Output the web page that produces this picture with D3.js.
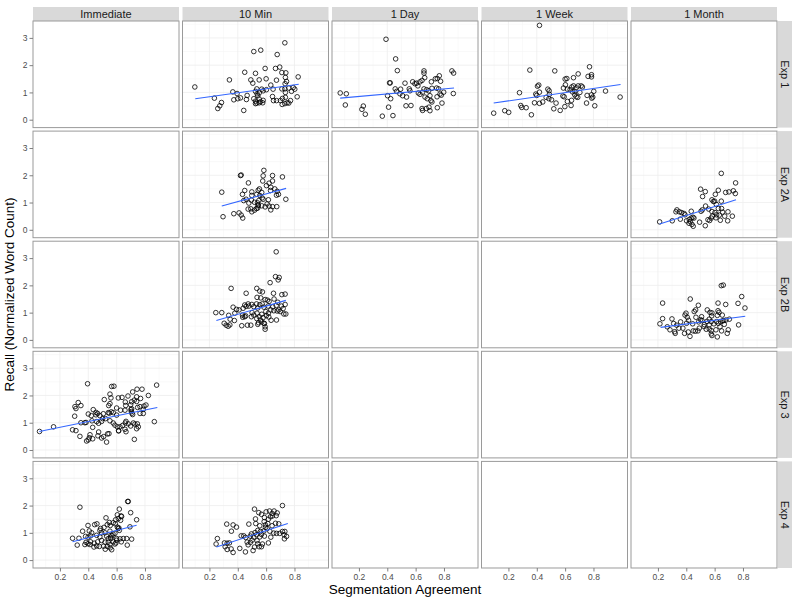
<!DOCTYPE html>
<html><head><meta charset="utf-8">
<script src="https://cdn.jsdelivr.net/npm/d3@7"></script>
<style>body{margin:0;background:#fff} svg{display:block;font-family:"Liberation Sans",Arial,Helvetica,sans-serif}</style>
</head><body><svg id="chart" width="800" height="603"></svg>
<script>
const columns = ["Immediate", "10 Min", "1 Day", "1 Week", "1 Month"];
const rows = ["Exp 1", "Exp 2A", "Exp 2B", "Exp 3", "Exp 4"];
const xTicks = [0.2, 0.4, 0.6, 0.8];
const yTicks = [0, 1, 2, 3];
const xMinor = [0.1, 0.3, 0.5, 0.7, 0.9];
const yMinor = [0.5, 1.5, 2.5, 3.5];
const xTitle = "Segmentation Agreement";
const yTitle = "Recall (Normalized Word Count)";

// [segmentation agreement, recall]
const exp1_10min = [[0.097,1.20],[0.732,2.82],[0.513,2.50],[0.562,2.55],[0.678,2.39],
[0.449,1.74],[0.525,1.70],[0.593,1.88],[0.666,1.88],[0.696,1.93],[0.711,1.73],[0.739,1.72],
[0.341,1.46],[0.492,1.46],[0.506,1.34],[0.551,1.46],[0.600,1.50],[0.673,1.45],[0.736,1.55],[0.744,1.40],[0.734,1.32],[0.826,1.57],
[0.633,1.27],[0.534,1.13],[0.569,1.12],[0.602,1.10],[0.649,1.12],[0.711,1.13],[0.732,1.13],[0.760,1.16],[0.791,1.18],[0.802,1.12],[0.736,1.00],[0.779,1.04],
[0.365,1.02],[0.395,0.96],[0.466,0.89],[0.525,1.04],[0.536,0.95],[0.541,0.88],[0.551,0.98],[0.579,1.06],
[0.235,0.79],[0.372,0.73],[0.40,0.77],[0.419,0.80],[0.461,0.74],[0.513,0.77],[0.525,0.68],[0.534,0.61],[0.551,0.76],[0.56,0.66],[0.579,0.71],[0.645,0.85],[0.652,0.70],[0.673,0.70],[0.701,0.70],[0.715,0.78],[0.736,0.82],[0.748,0.62],[0.772,0.70],[0.819,0.84],
[0.285,0.63],[0.273,0.51],[0.259,0.41],[0.442,0.34],[0.525,0.59],[0.551,0.62],[0.576,0.62],[0.713,0.56],[0.732,0.59],[0.760,0.61]];

const exp1_1day = [[0.391,2.95],[0.459,2.23],[0.471,1.80],[0.421,1.35],[0.416,1.35],
[0.068,0.98],[0.111,0.95],[0.104,0.54],[0.231,0.50],[0.221,0.38],[0.245,0.20],[0.365,0.13],[0.44,0.15],[0.409,0.46],[0.402,0.88],[0.424,0.77],
[0.456,1.13],[0.494,1.12],[0.466,1.04],[0.489,0.95],[0.508,0.88],[0.525,1.34],[0.555,1.13],[0.56,1.06],[0.536,0.83],[0.532,0.51],[0.567,0.52],
[0.579,1.39],[0.595,1.32],[0.607,1.34],[0.616,1.24],[0.631,1.39],[0.645,1.44],[0.659,1.79],[0.659,1.71],[0.664,1.54],[0.711,1.39],[0.715,1.15],[0.739,1.50],[0.753,1.51],[0.767,1.61],[0.776,1.41],[0.856,1.79],[0.868,1.71],
[0.619,0.98],[0.631,0.93],[0.649,1.01],[0.659,1.13],[0.678,1.10],[0.692,1.06],[0.748,1.16],[0.762,1.13],[0.798,1.01],[0.866,0.96],[0.772,0.94],[0.781,0.90],
[0.666,0.83],[0.682,0.77],[0.701,0.88],[0.708,0.70],[0.715,0.65],[0.751,0.84],
[0.645,0.41],[0.649,0.34],[0.675,0.41],[0.694,0.46],[0.701,0.33],[0.753,0.44],[0.786,0.61]];

const exp1_1week = [[0.419,3.46],[0.351,1.82],[0.527,1.79],[0.772,1.94],[0.692,1.68],[0.762,1.59],[0.786,1.65],[0.786,1.57],
[0.612,1.51],[0.60,1.49],[0.659,1.54],[0.602,1.28],[0.588,1.16],[0.414,1.27],[0.405,1.23],[0.393,0.94],[0.40,0.89],[0.419,1.01],[0.478,1.12],[0.487,1.06],[0.278,0.99],[0.489,0.93],[0.466,0.82],[0.485,0.77],[0.504,0.73],[0.536,0.61],
[0.616,1.12],[0.635,1.10],[0.647,1.20],[0.659,1.24],[0.678,1.17],[0.692,1.24],[0.713,1.24],[0.722,1.20],[0.668,1.04],[0.652,1.02],[0.704,1.0],[0.668,0.91],[0.678,0.84],[0.802,1.04],[0.885,1.05],[0.755,0.89],[0.786,0.91],[0.795,0.83],[0.788,0.79],[0.988,0.83],
[0.584,0.87],[0.593,0.84],[0.616,0.67],[0.645,0.71],[0.689,0.82],[0.751,0.61],[0.809,0.51],[0.642,0.52],[0.598,0.48],[0.52,0.40],[0.565,0.34],
[0.384,0.62],[0.419,0.60],[0.442,0.65],[0.287,0.52],[0.294,0.45],[0.325,0.44],[0.174,0.33],[0.202,0.27],[0.096,0.24],[0.362,0.18]];

const exp2a_10min = [[0.584,2.18],[0.424,2.01],[0.419,1.99],[0.645,1.99],[0.715,1.94],[0.579,1.98],[0.475,1.72],[0.645,1.79],[0.576,1.79],
[0.553,1.50],[0.544,1.45],[0.602,1.62],[0.621,1.71],[0.633,1.56],[0.661,1.50],[0.631,1.44],[0.678,1.41],[0.687,1.30],[0.673,1.27],
[0.287,1.38],[0.449,1.44],[0.433,1.30],[0.499,1.39],[0.499,1.26],[0.534,1.30],[0.569,1.37],[0.555,1.26],
[0.459,1.12],[0.442,1.07],[0.496,1.09],[0.548,1.07],[0.572,1.17],[0.579,1.12],[0.616,1.10],[0.739,1.12],
[0.478,0.98],[0.518,1.01],[0.539,0.99],[0.607,0.95],[0.544,0.91],[0.569,0.88],[0.593,0.84],[0.621,0.87],[0.645,0.85],[0.675,0.85],
[0.473,0.76],[0.492,0.77],[0.499,0.66],[0.518,0.72],[0.532,0.78],[0.541,0.80],[0.544,0.88],[0.633,0.73],
[0.372,0.59],[0.409,0.62],[0.424,0.54],[0.296,0.48],[0.435,0.43]];

const exp2a_1month = [[0.647,2.07],[0.748,1.72],[0.501,1.49],[0.534,1.40],[0.626,1.45],[0.605,1.30],[0.515,1.22],[0.678,1.37],[0.701,1.39],[0.732,1.43],[0.746,1.33],
[0.581,1.10],[0.591,1.04],[0.60,1.05],[0.647,1.05],[0.612,0.93],[0.536,0.87],[0.513,0.73],[0.504,0.68],
[0.334,0.73],[0.327,0.66],[0.351,0.66],[0.367,0.63],[0.384,0.60],[0.391,0.55],[0.435,0.68],[0.558,0.76],[0.581,0.67],[0.602,0.63],[0.626,0.78],[0.649,0.78],[0.656,0.65],[0.694,0.66],
[0.447,0.46],[0.454,0.43],[0.435,0.43],[0.421,0.38],[0.402,0.33],[0.419,0.24],[0.428,0.30],[0.44,0.20],[0.449,0.13],[0.358,0.39],[0.301,0.33],[0.212,0.29],[0.494,0.28],[0.534,0.15],[0.553,0.37],[0.576,0.43],[0.584,0.50],[0.614,0.55],[0.633,0.54],[0.64,0.35],[0.671,0.50],[0.725,0.50],[0.692,0.33],[0.609,0.44],[0.565,0.34]];

const exp2b_10min = [[0.671,3.23],
[0.666,2.32],[0.692,2.29],[0.685,2.20],[0.628,2.10],[0.353,1.89],[0.459,1.71],[0.534,1.89],[0.555,1.79],[0.574,1.76],[0.652,1.71],[0.711,1.66],[0.734,1.68],
[0.536,1.56],[0.562,1.54],[0.593,1.48],[0.609,1.46],[0.621,1.41],[0.656,1.50],[0.682,1.38],[0.734,1.30],[0.473,1.32],[0.499,1.30],[0.449,1.28],[0.532,1.32],[0.555,1.29],[0.572,1.32],
[0.367,1.20],[0.391,1.12],[0.409,1.10],[0.438,1.16],[0.459,1.23],[0.478,1.24],[0.513,1.22],[0.541,1.17],[0.584,1.20],[0.614,1.24],[0.647,1.21],[0.671,1.26],[0.708,1.24],[0.72,1.15],[0.689,1.10],[0.633,1.10],[0.598,1.04],
[0.245,1.0],[0.287,1.0],[0.336,0.90],[0.379,0.98],[0.433,0.91],[0.456,0.88],[0.501,1.0],[0.513,0.91],[0.536,0.98],[0.569,0.94],[0.616,0.98],[0.654,1.07],[0.678,1.06],[0.725,0.95],[0.739,0.95],[0.699,1.04],
[0.346,0.76],[0.376,0.71],[0.435,0.83],[0.449,0.85],[0.496,0.85],[0.534,0.78],[0.551,0.85],[0.56,0.73],[0.579,0.82],[0.602,0.89],[0.619,0.84],[0.635,0.72],[0.673,0.73],
[0.304,0.61],[0.318,0.54],[0.332,0.50],[0.344,0.55],[0.428,0.52],[0.468,0.54],[0.492,0.54],[0.546,0.63],[0.541,0.57],[0.569,0.66],[0.588,0.60],[0.593,0.48],[0.593,0.39],[0.584,0.61]];

const exp2b_1month = [[0.647,1.99],[0.661,2.01],[0.791,1.59],[0.233,1.35],[0.428,1.50],[0.485,1.27],[0.624,1.35],[0.678,1.30],[0.765,1.34],[0.814,1.17],
[0.466,1.10],[0.456,1.04],[0.548,1.10],[0.567,1.01],[0.581,0.99],[0.624,1.07],[0.631,1.01],[0.398,0.98],[0.391,0.91],
[0.233,0.78],[0.299,0.77],[0.407,0.83],[0.416,0.72],[0.468,0.83],[0.508,0.85],[0.579,0.88],[0.619,0.90],[0.654,0.91],[0.664,0.71],[0.68,0.73],[0.704,0.76],[0.562,0.76],[0.546,0.68],[0.501,0.74],
[0.214,0.59],[0.266,0.48],[0.311,0.60],[0.36,0.66],[0.332,0.54],[0.348,0.43],[0.402,0.61],[0.445,0.59],[0.487,0.66],[0.511,0.71],[0.527,0.56],[0.576,0.67],[0.595,0.59],[0.614,0.67],[0.626,0.61],[0.642,0.67],[0.656,0.70],[0.668,0.57],[0.769,0.55],[0.562,0.55],
[0.285,0.37],[0.318,0.30],[0.322,0.24],[0.376,0.43],[0.388,0.24],[0.414,0.29],[0.426,0.13],[0.449,0.33],[0.464,0.32],[0.482,0.33],[0.492,0.43],[0.525,0.49],[0.541,0.39],[0.562,0.40],[0.576,0.34],[0.576,0.22],[0.581,0.16],[0.609,0.37],[0.619,0.11],[0.649,0.33],[0.696,0.37],[0.689,0.24],[0.638,0.48]];

const exp3_immediate = [[0.395,2.43],[0.565,2.33],[0.581,2.34],[0.882,2.38],[0.824,2.0],[0.779,2.23],[0.744,2.23],[0.713,2.13],[0.68,1.98],[0.638,1.93],[0.553,2.05],[0.56,1.91],[0.612,1.91],[0.741,1.95],[0.706,1.77],[0.661,1.76],
[0.306,1.59],[0.329,1.74],[0.348,1.63],[0.313,1.52],[0.435,1.48],[0.513,1.85],[0.553,1.70],[0.544,1.63],[0.60,1.54],[0.562,1.40],[0.628,1.46],[0.664,1.63],[0.699,1.66],[0.725,1.83],[0.741,1.78],[0.748,1.56],[0.765,1.59],[0.793,1.61],[0.807,1.65],[0.769,1.89],
[0.304,1.24],[0.40,1.32],[0.421,1.26],[0.454,1.38],[0.454,1.29],[0.466,1.34],[0.482,1.26],[0.506,1.33],[0.541,1.37],[0.548,1.35],[0.576,1.37],[0.60,1.28],[0.659,1.46],[0.701,1.48],[0.706,1.51],[0.704,1.41],[0.708,1.35],[0.713,1.30],[0.765,1.34],[0.788,1.34],[0.788,1.49],
[0.155,0.85],[0.056,0.68],[0.289,0.74],[0.313,0.71],[0.348,1.0],[0.376,1.0],[0.384,1.01],[0.426,1.07],[0.459,1.04],[0.473,0.98],[0.494,1.05],[0.501,1.15],[0.522,1.15],[0.553,1.07],[0.576,0.99],[0.588,0.91],[0.605,0.85],[0.642,0.90],[0.661,0.99],[0.666,1.05],[0.682,0.96],[0.718,0.99],[0.729,0.95],[0.746,0.96],[0.753,0.85],[0.866,1.04],[0.699,0.88],[0.741,0.78],[0.614,0.71],[0.659,0.76],[0.624,0.85],
[0.341,0.50],[0.412,0.56],[0.407,0.45],[0.40,0.37],[0.431,0.41],[0.431,0.83],[0.468,0.52],[0.473,0.66],[0.494,0.44],[0.508,0.49],[0.536,0.59],[0.546,0.60],[0.529,0.29],[0.614,0.70],[0.666,0.67],[0.725,0.39],[0.388,0.33]];

const exp4_immediate = [[0.341,1.94],[0.678,2.15],[0.682,2.15],[0.619,1.87],[0.699,1.74],[0.741,1.48],[0.605,1.66],[0.612,1.52],[0.631,1.62],[0.635,1.60],[0.593,1.48],[0.628,1.46],
[0.398,1.27],[0.461,1.33],[0.525,1.55],[0.534,1.30],[0.548,1.38],[0.555,1.27],[0.511,1.20],[0.487,1.16],[0.576,1.37],[0.591,1.33],[0.605,1.21],[0.612,1.16],[0.616,1.18],[0.619,1.09],[0.694,1.22],
[0.36,1.06],[0.407,1.07],[0.424,1.0],[0.445,1.30],[0.482,1.09],[0.494,1.0],[0.518,1.0],[0.553,1.06],[0.574,0.96],[0.588,0.98],[0.567,0.90],[0.558,0.84],
[0.289,0.80],[0.334,0.80],[0.381,0.87],[0.398,0.84],[0.416,0.89],[0.459,0.91],[0.482,0.85],[0.529,0.88],[0.541,0.79],[0.56,0.79],[0.60,0.79],[0.624,0.78],[0.647,0.79],[0.671,0.79],[0.706,0.77],[0.675,0.55],[0.633,0.67],
[0.322,0.55],[0.384,0.65],[0.398,0.60],[0.416,0.67],[0.442,0.62],[0.466,0.67],[0.494,0.72],[0.518,0.66],[0.541,0.66],[0.576,0.67],[0.60,0.73],
[0.376,0.57],[0.412,0.57],[0.44,0.48],[0.459,0.52],[0.478,0.50],[0.508,0.51],[0.52,0.40],[0.534,0.50],[0.553,0.57],[0.555,0.45],[0.588,0.59],[0.595,0.63],[0.565,0.38]];

const exp4_10min = [[0.715,2.0],[0.518,1.87],[0.548,1.74],[0.567,1.68],[0.60,1.77],[0.624,1.80],[0.642,1.71],[0.656,1.80],[0.678,1.73],[0.671,1.63],[0.631,1.59],[0.645,1.62],[0.588,1.56],[0.525,1.51],[0.616,1.50],
[0.322,1.32],[0.367,1.29],[0.391,1.21],[0.355,1.06],[0.478,1.32],[0.527,1.34],[0.555,1.26],[0.586,1.41],[0.595,1.29],[0.612,1.34],[0.595,1.20],[0.607,1.16],[0.642,1.26],[0.666,1.35],[0.689,1.33],[0.584,1.07],[0.626,1.06],[0.654,0.99],[0.673,0.98],[0.696,0.98],[0.715,1.05],[0.732,1.05],[0.727,0.93],[0.744,0.87],[0.729,0.78],
[0.424,0.89],[0.442,0.89],[0.456,0.83],[0.489,0.88],[0.496,0.96],[0.522,1.01],[0.541,1.09],[0.56,1.05],[0.532,0.93],[0.567,0.94],[0.513,0.84],[0.555,0.85],[0.588,0.88],[0.633,0.84],[0.616,0.63],
[0.256,0.79],[0.247,0.59],[0.306,0.63],[0.325,0.62],[0.341,0.63],[0.311,0.49],[0.325,0.39],[0.353,0.41],[0.367,0.28],[0.414,0.43],[0.454,0.30],[0.473,0.56],[0.489,0.65],[0.501,0.73],[0.508,0.35],[0.466,0.66],[0.541,0.60],[0.551,0.49],[0.567,0.49],[0.574,0.59],[0.518,0.48],[0.536,0.71]];

// fitted regression lines: [x start, y start, x end, y end]
const fit_exp1_10min = [0.10, 0.77, 0.83, 1.30];
const fit_exp1_1day = [0.068, 0.79, 0.871, 1.16];
const fit_exp1_1week = [0.096, 0.61, 0.991, 1.29];
const fit_exp2a_10min = [0.287, 0.87, 0.741, 1.52];
const fit_exp2a_1month = [0.212, 0.21, 0.751, 1.10];
const fit_exp2b_10min = [0.249, 0.71, 0.739, 1.45];
const fit_exp2b_1month = [0.219, 0.46, 0.816, 0.87];
const fit_exp3_immediate = [0.054, 0.68, 0.887, 1.56];
const fit_exp4_immediate = [0.289, 0.67, 0.741, 1.28];
const fit_exp4_10min = [0.249, 0.48, 0.753, 1.34];

const panels = [
  {row: "Exp 1", col: "10 Min", points: exp1_10min, fit: fit_exp1_10min},
  {row: "Exp 1", col: "1 Day", points: exp1_1day, fit: fit_exp1_1day},
  {row: "Exp 1", col: "1 Week", points: exp1_1week, fit: fit_exp1_1week},
  {row: "Exp 2A", col: "10 Min", points: exp2a_10min, fit: fit_exp2a_10min},
  {row: "Exp 2A", col: "1 Month", points: exp2a_1month, fit: fit_exp2a_1month},
  {row: "Exp 2B", col: "10 Min", points: exp2b_10min, fit: fit_exp2b_10min},
  {row: "Exp 2B", col: "1 Month", points: exp2b_1month, fit: fit_exp2b_1month},
  {row: "Exp 3", col: "Immediate", points: exp3_immediate, fit: fit_exp3_immediate},
  {row: "Exp 4", col: "Immediate", points: exp4_immediate, fit: fit_exp4_immediate},
  {row: "Exp 4", col: "10 Min", points: exp4_10min, fit: fit_exp4_10min}
];

const svg = d3.select("#chart");
const L = 33, R = 777, T = 21, B = 568, gap = 3.5;
const colBand = d3.scaleBand().domain(columns).range([L, R])
  .paddingInner(gap / ((R - L + gap) / columns.length));
const rowBand = d3.scaleBand().domain(rows).range([T, B])
  .paddingInner(gap / ((B - T + gap) / rows.length));
const pw = colBand.bandwidth(), ph = rowBand.bandwidth();
const x = d3.scaleLinear().domain([0.01, 1.04]).range([0, pw]);
const y = d3.scaleLinear().domain([-0.29, 3.62]).range([ph, 0]);

const textCol = "#4d4d4d";
const stripH = 14;

// top strips
columns.forEach(c => {
  const g = svg.append("g").attr("transform", `translate(${colBand(c)},${T - stripH})`);
  g.append("rect").attr("width", pw).attr("height", stripH).attr("fill", "#d9d9d9");
  g.append("text").attr("x", pw / 2).attr("y", stripH / 2).attr("dy", "0.35em")
    .attr("text-anchor", "middle").attr("font-size", 11).attr("fill", "#1a1a1a").text(c);
});
// right strips
rows.forEach(r => {
  const g = svg.append("g").attr("transform", `translate(${R + 1},${rowBand(r)})`);
  g.append("rect").attr("width", stripH).attr("height", ph).attr("fill", "#d9d9d9");
  g.append("text").attr("transform", `translate(${stripH / 2},${ph / 2}) rotate(90)`)
    .attr("dy", "0.35em").attr("text-anchor", "middle").attr("font-size", 11)
    .attr("fill", "#1a1a1a").text(r);
});

const lookup = new Map(panels.map(p => [p.row + "|" + p.col, p]));

rows.forEach(r => columns.forEach(c => {
  const g = svg.append("g").attr("transform", `translate(${colBand(c)},${rowBand(r)})`);
  g.append("rect").attr("width", pw).attr("height", ph).attr("fill", "#fff");
  const p = lookup.get(r + "|" + c);
  if (p) {
    g.selectAll("line.xmin").data(xMinor).join("line")
      .attr("x1", d => x(d)).attr("x2", d => x(d)).attr("y1", 0).attr("y2", ph)
      .attr("stroke", "#f5f5f5").attr("stroke-width", 0.6);
    g.selectAll("line.ymin").data(yMinor).join("line")
      .attr("y1", d => y(d)).attr("y2", d => y(d)).attr("x1", 0).attr("x2", pw)
      .attr("stroke", "#f5f5f5").attr("stroke-width", 0.6);
    g.selectAll("line.xmaj").data(xTicks).join("line")
      .attr("x1", d => x(d)).attr("x2", d => x(d)).attr("y1", 0).attr("y2", ph)
      .attr("stroke", "#ededed").attr("stroke-width", 0.8);
    g.selectAll("line.ymaj").data(yTicks).join("line")
      .attr("y1", d => y(d)).attr("y2", d => y(d)).attr("x1", 0).attr("x2", pw)
      .attr("stroke", "#ededed").attr("stroke-width", 0.8);
    g.selectAll("circle").data(p.points).join("circle")
      .attr("cx", d => x(d[0])).attr("cy", d => y(d[1])).attr("r", 2.3)
      .attr("fill", "none").attr("stroke", "#000").attr("stroke-width", 0.8);
    g.append("line")
      .attr("x1", x(p.fit[0])).attr("y1", y(p.fit[1]))
      .attr("x2", x(p.fit[2])).attr("y2", y(p.fit[3]))
      .attr("stroke", "#3366ff").attr("stroke-width", 1.1);
  }
  g.append("rect").attr("width", pw).attr("height", ph).attr("fill", "none")
    .attr("stroke", "#9a9a9a").attr("stroke-width", 1);

  if (c === columns[0]) {
    const ax = svg.append("g").attr("transform", `translate(${colBand(c)},${rowBand(r)})`)
      .call(d3.axisLeft(y).tickValues(yTicks).tickFormat(d3.format("d")).tickSize(3.5).tickPadding(2));
    ax.select(".domain").remove();
    ax.selectAll(".tick line").attr("stroke", "#7f7f7f");
    ax.selectAll(".tick text").attr("fill", textCol).attr("font-size", 8.5)
      .attr("font-family", "'Liberation Sans', Arial, sans-serif");
  }
  if (r === rows[rows.length - 1]) {
    const ax = svg.append("g").attr("transform", `translate(${colBand(c)},${rowBand(r) + ph})`)
      .call(d3.axisBottom(x).tickValues(xTicks).tickFormat(d3.format(".1f")).tickSize(3.5).tickPadding(2));
    ax.select(".domain").remove();
    ax.selectAll(".tick line").attr("stroke", "#7f7f7f");
    ax.selectAll(".tick text").attr("fill", textCol).attr("font-size", 8.5)
      .attr("font-family", "'Liberation Sans', Arial, sans-serif");
  }
}));

svg.append("text").attr("x", (L + R) / 2).attr("y", 594).attr("text-anchor", "middle")
  .attr("font-size", 13.5).attr("fill", "#000").text(xTitle);
svg.append("text").attr("transform", `translate(14,${(T + B) / 2}) rotate(-90)`)
  .attr("text-anchor", "middle").attr("font-size", 13.5).attr("fill", "#000").text(yTitle);
</script></body></html>
